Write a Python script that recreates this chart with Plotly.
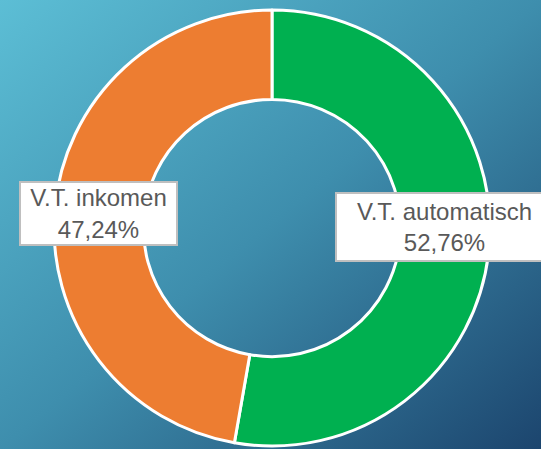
import base64
import plotly.graph_objects as go

labels = ["V.T. automatisch", "V.T. inkomen"]
values = [52.76, 47.24]
colors = ["#00B050", "#ED7D31"]
label_text = ["V.T. automatisch<br>52,76%", "V.T. inkomen<br>47,24%"]

W, H = 541, 449

svg = f'''<svg xmlns="http://www.w3.org/2000/svg" width="{W}" height="{H}" viewBox="0 0 {W} {H}" preserveAspectRatio="none">
<defs><linearGradient id="g" x1="0" y1="0" x2="1" y2="1">
<stop offset="0" stop-color="#5CBED5"/>
<stop offset="0.5" stop-color="#3E8EAD"/>
<stop offset="1" stop-color="#1C456E"/>
</linearGradient></defs>
<rect width="{W}" height="{H}" fill="url(#g)"/></svg>'''
bg = "data:image/svg+xml;base64," + base64.b64encode(svg.encode()).decode()

fig = go.Figure(go.Pie(
    labels=labels, values=values, sort=False, direction="clockwise", rotation=0,
    hole=0.59, marker=dict(colors=colors, line=dict(color="white", width=3)),
    textinfo="none", hoverinfo="label+percent", showlegend=False,
    domain=dict(x=[54 / W, 490 / W], y=[(H - 446) / H, (H - 10) / H]),
))

# label boxes (positions in paper coordinates)
ann_pos = [(444.5 / W, (H - 227) / H, 215, 66), (98 / W, (H - 213) / H, 155, 61)]
for txt, (x, y, w, h) in zip(label_text, ann_pos):
    fig.add_annotation(
        x=x, y=y, xref="paper", yref="paper", text=txt, showarrow=False,
        xanchor="center", yanchor="middle", width=w, height=h, align="center",
        bgcolor="white", bordercolor="#BFBFBF", borderwidth=2, borderpad=0,
        font=dict(family="Liberation Sans, Arial", size=24, color="#595959"),
    )

fig.add_layout_image(dict(source=bg, xref="paper", yref="paper", x=0, y=1,
                          sizex=1, sizey=1, sizing="stretch", layer="below",
                          xanchor="left", yanchor="top"))
fig.update_layout(width=W, height=H, margin=dict(l=0, r=0, t=0, b=0),
                  paper_bgcolor="#3E8EAD", plot_bgcolor="rgba(0,0,0,0)")
fig.write_html("out.html", config={"displayModeBar": False},
               post_script="document.body.style.margin='0';document.body.style.overflow='hidden';")
